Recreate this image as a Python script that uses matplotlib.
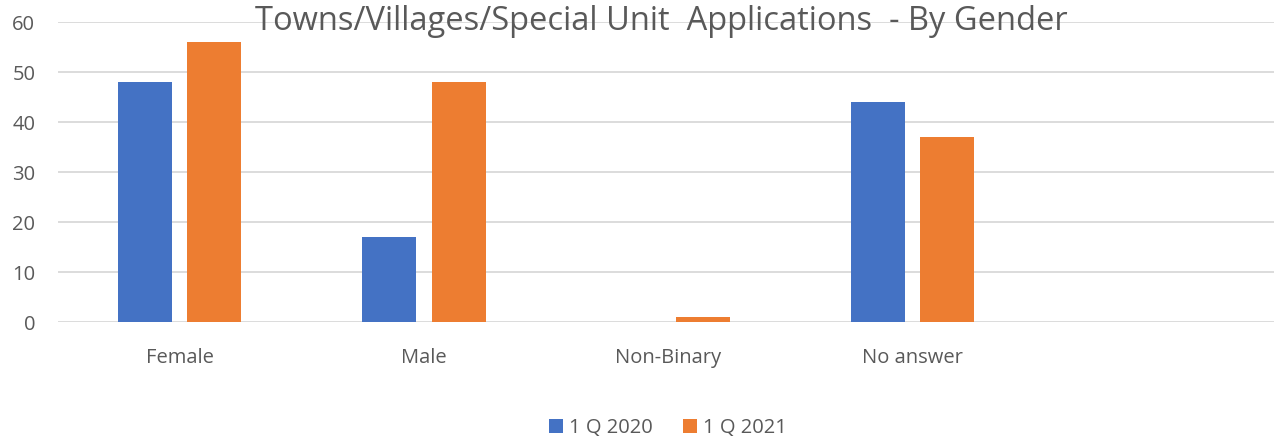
import matplotlib
matplotlib.use("Agg")
import matplotlib.pyplot as plt
import numpy as np

categories = ["Female", "Male", "Non-Binary", "No answer", ""]
q2020 = [48, 17, 0, 44, np.nan]
q2021 = [56, 48, 1, 37, np.nan]
series_labels = ["1 Q 2020", "1 Q 2021"]
yticks = [0, 10, 20, 30, 40, 50, 60]

plt.rcParams['font.family'] = ['Open Sans', 'DejaVu Sans']
TXT = '#595959'

fig = plt.figure(figsize=(12.74, 4.38), dpi=100)
ax = fig.add_axes([57.5/1274, 1-322/438, 1221.5/1274, 300/438])

x = np.arange(len(categories))
w = 0.221
off = 0.142
ax.bar(x - off, q2020, w, color='#4472C4', label=series_labels[0], zorder=3)
ax.bar(x + off, q2021, w, color='#ED7D31', label=series_labels[1], zorder=3)

ax.set_xlim(-0.5, len(categories) - 0.5)
ax.set_ylim(0, 60)
ax.set_yticks(yticks)
ax.yaxis.grid(True, color='#D9D9D9', linewidth=1.3, zorder=0)
ax.set_axisbelow(True)
for s in ax.spines.values():
    s.set_visible(False)
ax.tick_params(axis='both', length=0, labelsize=14.5, colors=TXT)
ax.tick_params(axis='y', pad=16)
ax.tick_params(axis='x', pad=19)
ax.set_xticks(x)
ax.set_xticklabels(categories)

fig.text(661/1274, 1-22/438, "Towns/Villages/Special Unit  Applications  - By Gender",
         ha='center', va='center', fontsize=23.5, color=TXT)

leg = fig.legend(loc='center', bbox_to_anchor=(668/1274, 1-428/438), ncol=2,
                 frameon=False, fontsize=14.5, handlelength=0.7, handleheight=0.7,
                 handletextpad=0.3, columnspacing=1.5)
for t in leg.get_texts():
    t.set_color(TXT)

fig.savefig("out.png", dpi=100, facecolor='white')
